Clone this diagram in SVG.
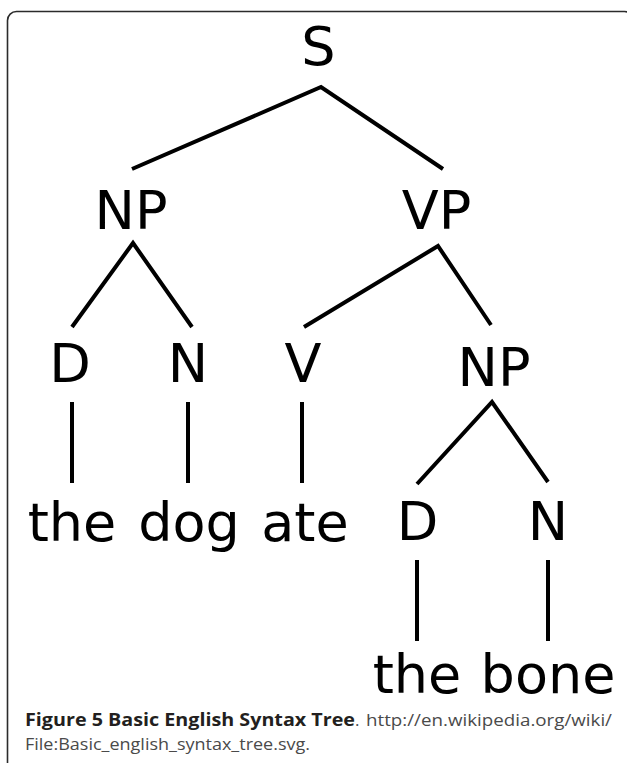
<svg xmlns="http://www.w3.org/2000/svg" width="627" height="763" viewBox="0 0 627 763">
<style>
.lbl{font-family:"DejaVu Sans",sans-serif;font-size:54px;fill:#000;text-anchor:middle}
.edge{fill:none;stroke:#000;stroke-width:4;stroke-linejoin:miter;stroke-linecap:butt}
.capb{font-family:"Open Sans","Liberation Sans",sans-serif;font-size:17px;font-weight:bold;fill:#231f20}
.capr{font-family:"Open Sans","Liberation Sans",sans-serif;font-size:17px;fill:#4a4a4a}
</style>
<rect x="7.5" y="11.5" width="626" height="800" rx="9" ry="9" fill="#fff" stroke="#2b2b2b" stroke-width="1.6"/>
<g id="connectors">
<polyline class="edge" points="132,169 321,87 443,169"/>
<polyline class="edge" points="72,327 133,243 192,327"/>
<polyline class="edge" points="304,327 438,246 491,325"/>
<line class="edge" x1="72" y1="402" x2="72" y2="483"/>
<line class="edge" x1="188" y1="402" x2="188" y2="483"/>
<line class="edge" x1="302" y1="402" x2="302" y2="483"/>
<polyline class="edge" points="417,484 492,402 548,482"/>
<line class="edge" x1="417" y1="560" x2="417" y2="641"/>
<line class="edge" x1="548" y1="560" x2="548" y2="641"/>
</g>
<g id="node-S"><text class="lbl" x="318.5" y="65">S</text></g>
<g id="node-NP1"><text class="lbl" x="131" y="229">NP</text></g>
<g id="node-VP"><text class="lbl" x="436.5" y="229">VP</text></g>
<g id="node-D1"><text class="lbl" x="70" y="382">D</text></g>
<g id="node-N1"><text class="lbl" x="188" y="382">N</text></g>
<g id="node-V"><text class="lbl" x="303" y="382">V</text></g>
<g id="node-NP2"><text class="lbl" x="494" y="386">NP</text></g>
<g id="node-the1"><text class="lbl" x="72" y="541">the</text></g>
<g id="node-dog"><text class="lbl" x="189" y="541">dog</text></g>
<g id="node-ate"><text class="lbl" x="305" y="541">ate</text></g>
<g id="node-D2"><text class="lbl" x="417.5" y="540">D</text></g>
<g id="node-N2"><text class="lbl" x="548" y="540">N</text></g>
<g id="node-the2"><text class="lbl" x="417" y="693">the</text></g>
<g id="node-bone"><text class="lbl" x="548" y="693">bone</text></g>
<g id="caption">
<text class="capb" x="25" y="726" textLength="330" lengthAdjust="spacingAndGlyphs">Figure 5 Basic English Syntax Tree</text>
<text class="capr" x="355" y="726">.</text>
<text class="capr" x="366" y="726" textLength="246" lengthAdjust="spacingAndGlyphs">http://en.wikipedia.org/wiki/</text>
<text class="capr" x="25" y="750" textLength="285" lengthAdjust="spacingAndGlyphs">File:Basic_english_syntax_tree.svg.</text>
</g>
</svg>
